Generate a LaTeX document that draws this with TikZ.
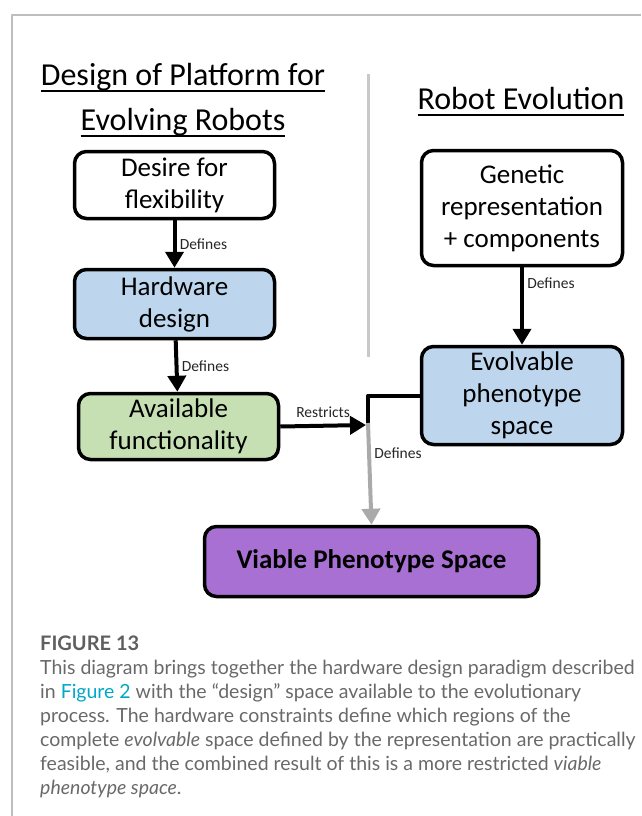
\documentclass[tikz,border=0pt]{standalone}
\usepackage{fontspec}
\setmainfont{Carlito}
\newfontfamily\capfont{Lato}
\usetikzlibrary{arrows.meta,positioning}
\definecolor{hwblue}{RGB}{189,214,238}
\definecolor{funcgreen}{RGB}{198,224,180}
\definecolor{viablepurple}{RGB}{168,112,210}
\definecolor{divgray}{RGB}{200,200,200}
\definecolor{framegray}{RGB}{190,190,190}
\definecolor{capgray}{RGB}{105,105,105}
\definecolor{figlink}{RGB}{0,168,200}
\newcommand{\uline}[1]{\setbox0\hbox{#1}\rlap{\rule[-7pt]{\wd0}{1.6pt}}\box0}
\tikzset{
  stage/.style={draw=black,line width=3.5pt,rounded corners=12pt,align=center,
    font=\fontsize{27}{32}\selectfont,inner sep=0pt},
  heading/.style={font=\fontsize{32}{38}\selectfont,anchor=base},
  flow/.style={line width=4pt,-{Triangle[length=16pt,width=18pt]}},
  edgelabel/.style={font=\fontsize{15.5}{18}\selectfont,anchor=west,text=black!85},
  caption/.style={font=\capfont\fontsize{19.5}{24}\selectfont,text=capgray,anchor=base west,inner sep=0pt}
}
\begin{document}
\begin{tikzpicture}[x=1pt,y=-1pt,line join=round]
\useasboundingbox (0,0) rectangle (641,816);
% frame and divider
\draw[framegray,line width=1.2pt] (641,15) -- (12,15) -- (12,816);
\draw[divgray,line width=3pt] (368,74) -- (368,357);
% headings
\node[heading] (platA) at (183,85) {\uline{Design of Platform for}};
\node[heading] (platB) at (183,130) {\uline{Evolving Robots}};
\node[heading] (evol) at (521,109) {\uline{Robot Evolution}};
% left column
\node[stage,minimum width=200pt,minimum height=67pt] (desire) at (174.5,185) {Desire for\\flexibility};
\node[stage,fill=hwblue,minimum width=200pt,minimum height=69pt] (hw) at (174.5,304) {Hardware\\design};
\node[stage,fill=funcgreen,minimum width=200pt,minimum height=66pt] (func) at (178.5,426.5) {Available\\functionality};
% right column
\node[stage,minimum width=201pt,minimum height=115pt] (genrep) at (522,208) {Genetic\\representation\\+ components};
\node[stage,fill=hwblue,minimum width=201pt,minimum height=98pt] (evo) at (522,395.5) {Evolvable\\phenotype\\space};
% result
\node[stage,fill=viablepurple,minimum width=334pt,minimum height=70pt,font=\fontsize{27}{32}\selectfont\bfseries] (viable) at (371.5,561.5) {Viable Phenotype Space};
\coordinate (merge) at (368,425);
% connectors
\draw[flow] (desire) -- node[edgelabel] {Defines} (hw);
\draw[flow] (hw) -- node[edgelabel] {Defines} (func);
\draw[flow] (genrep) -- node[edgelabel,pos=0.2] {Defines} (evo);
\draw[flow] (func.east) -- node[edgelabel,above=3pt,anchor=south] {Restricts} ([xshift=-2pt]merge);
\draw[line width=4pt,line cap=butt] (evo.west) -| ([yshift=2pt]merge);
\draw[flow,divgray!85!black] ([yshift=2pt]merge) -- node[edgelabel,pos=0.3] {Defines} (viable.north);
% caption
\node[caption,font=\capfont\fontsize{20}{24}\selectfont\bfseries,text=capgray!90!black] (fig) at (40,650) {FIGURE 13};
\foreach \ln [count=\k] in {%
  {This diagram brings together the hardware design paradigm described},
  {in \textcolor{figlink}{Figure 2} with the “design” space available to the evolutionary},
  {process. The hardware constraints define which regions of the},
  {complete \textit{evolvable} space defined by the representation are practically},
  {feasible, and the combined result of this is a more restricted \textit{viable}},
  {\textit{phenotype space}.}}
  \node[caption] (cap\k) at (40,{650+24*\k}) {\ln};
\end{tikzpicture}
\end{document}
